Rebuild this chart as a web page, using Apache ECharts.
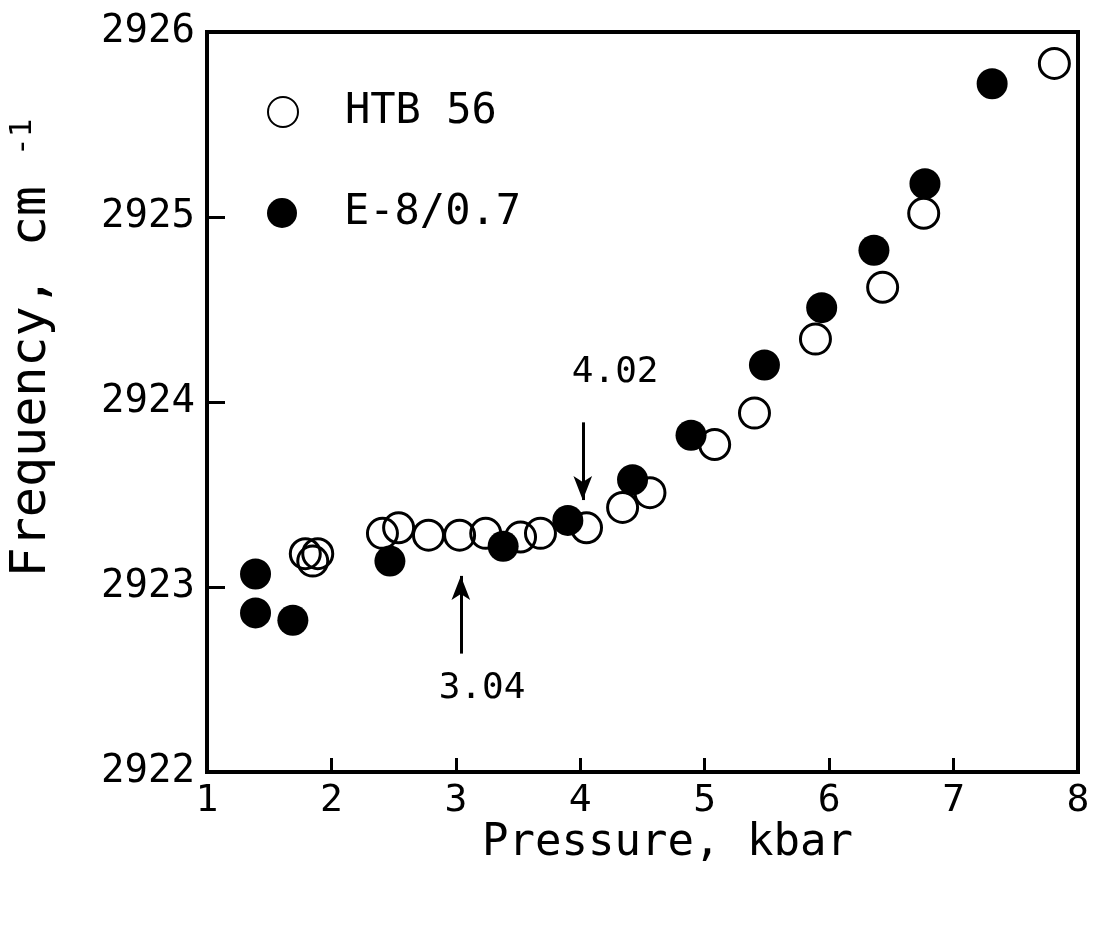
<!DOCTYPE html>
<html>
<head>
<meta charset="utf-8">
<script src="https://cdn.jsdelivr.net/npm/echarts@6/dist/echarts.min.js"></script>
<style>
html,body{margin:0;padding:0;background:#fff;}
#chart{width:1094px;height:930px;}
</style>
</head>
<body>
<div id="chart"></div>
<script>
var htbName = 'HTB 56';
var eName = 'E-8/0.7';
var htbX = [1.79, 1.89, 1.85, 2.41, 2.54, 2.78, 3.03, 3.24, 3.52, 3.68, 4.05, 4.34, 4.56, 5.08, 5.40, 5.89, 6.43, 6.76, 7.81];
var htbY = [2923.18, 2923.18, 2923.14, 2923.29, 2923.32, 2923.28, 2923.28, 2923.29, 2923.27, 2923.29, 2923.32, 2923.43, 2923.51, 2923.77, 2923.94, 2924.34, 2924.62, 2925.02, 2925.83];
var eX = [1.39, 1.39, 1.69, 2.47, 3.38, 3.90, 4.42, 4.89, 5.48, 5.94, 6.36, 6.77, 7.31];
var eY = [2923.07, 2922.86, 2922.82, 2923.14, 2923.22, 2923.36, 2923.58, 2923.82, 2924.20, 2924.51, 2924.82, 2925.18, 2925.72];
var arrowLabels = ['4.02', '3.04'];
var arrowX = [4.02, 3.04];
var arrowFrom = [2923.89, 2922.64];
var arrowTo = [2923.47, 2923.06];
var arrowTextPos = [[4.28, 2924.16], [3.21, 2922.45]];

var FONT = 'DejaVu Sans Mono';

function pairs(xs, ys) { return xs.map(function (x, i) { return [x, ys[i]]; }); }

var chart = echarts.init(document.getElementById('chart'), null, {renderer: 'canvas'});
var option = {
  animation: false,
  backgroundColor: '#fff',
  grid: {left: 207, right: 16, top: 32, bottom: 158, show: true, borderColor: '#000', borderWidth: 4, backgroundColor: 'transparent'},
  legend: [
    {data: [htbName], left: 267, top: 90, orient: 'vertical', padding: 0, itemWidth: 30, itemHeight: 30, selectedMode: false,
     textStyle: {fontFamily: FONT, fontSize: 42, color: '#000', lineHeight: 44, padding: [0, 0, 0, 42]}},
    {data: [eName], left: 267, top: 191, orient: 'vertical', padding: 0, itemWidth: 30, itemHeight: 30, selectedMode: false,
     textStyle: {fontFamily: FONT, fontSize: 42, color: '#000', lineHeight: 44, padding: [0, 0, 0, 42]}}
  ],
  xAxis: {
    type: 'value', min: 1, max: 8, interval: 1,
    name: 'Pressure, kbar', nameLocation: 'middle', nameGap: 50, nameMoveOverlap: false,
    nameTextStyle: {fontFamily: FONT, fontSize: 44, color: '#000', padding: [0, 0, 0, 50]},
    axisLine: {show: true, lineStyle: {color: '#000', width: 4}},
    axisTick: {show: true, inside: true, length: 14, lineStyle: {color: '#000', width: 3}},
    axisLabel: {fontFamily: FONT, fontSize: 38, color: '#000', margin: 10, formatter: function (v) { return String(v); }},
    splitLine: {show: false}
  },
  yAxis: {
    type: 'value', min: 2922, max: 2926, interval: 1,
    axisLine: {show: true, lineStyle: {color: '#000', width: 4}},
    axisTick: {show: true, inside: true, length: 18, lineStyle: {color: '#000', width: 3}},
    axisLabel: {fontFamily: FONT, fontSize: 39, color: '#000', margin: 12, formatter: function (v) { return String(v); }},
    splitLine: {show: false}
  },
  graphic: [{
    type: 'text', x: 32, y: 348, rotation: Math.PI / 2,
    style: {
      text: '{a|Frequency, cm }{b|-1}',
      align: 'center', verticalAlign: 'middle',
      rich: {
        a: {fontFamily: FONT, fontSize: 50, fill: '#000', color: '#000'},
        b: {fontFamily: FONT, fontSize: 31, fill: '#000', color: '#000', verticalAlign: 'top', padding: [0, 0, 16, 0]}
      }
    }
  }],
  series: [
    {
      name: htbName, type: 'scatter', z: 2,
      data: pairs(htbX, htbY), symbol: 'circle', symbolSize: 30,
      itemStyle: {color: 'rgba(255,255,255,0)', borderColor: '#000', borderWidth: 3, opacity: 1},
      markLine: {
        silent: true, symbol: ['none', 'arrow'], symbolSize: [14, 24],
        lineStyle: {color: '#000', width: 3, type: 'solid'},
        label: {show: false},
        data: arrowX.map(function (x, i) { return [{coord: [x, arrowFrom[i]]}, {coord: [x, arrowTo[i]]}]; })
      },
      markPoint: {
        silent: true, symbol: 'circle', symbolSize: 1,
        itemStyle: {color: 'rgba(0,0,0,0)'},
        label: {show: true, position: 'inside', fontFamily: FONT, fontSize: 36, color: '#000', formatter: function (p) { return p.name; }},
        data: arrowLabels.map(function (t, i) { return {name: t, coord: arrowTextPos[i]}; })
      }
    },
    {
      name: eName, type: 'scatter', z: 3,
      data: pairs(eX, eY), symbol: 'circle', symbolSize: 31,
      itemStyle: {color: '#000', borderColor: '#000', borderWidth: 0, opacity: 1}
    }
  ]
};
chart.setOption(option);
</script>
</body>
</html>
